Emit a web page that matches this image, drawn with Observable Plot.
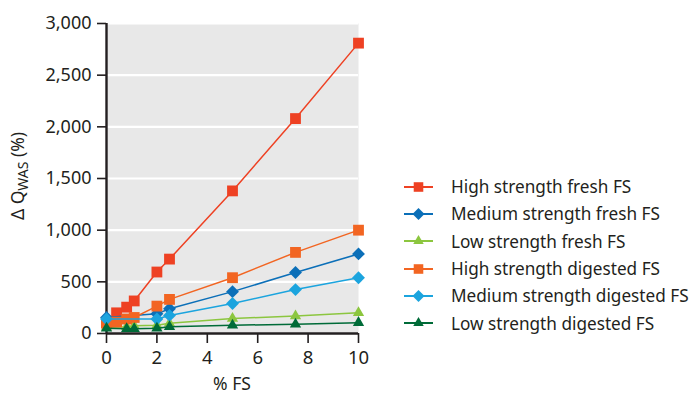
<!DOCTYPE html>
<html>
<head>
<meta charset="utf-8">
<script src="https://cdn.jsdelivr.net/npm/d3@7"></script>
<script src="https://cdn.jsdelivr.net/npm/@observablehq/plot@0.6"></script>
<style>
  html, body { margin: 0; padding: 0; background: white; }
  #wrap { position: relative; width: 693px; height: 395px; font-family: "Noto Sans", sans-serif; }
  #legend { position: absolute; left: 404px; top: 173px; color: #231f20; font-size: 17.2px; }
  .row { display: flex; align-items: center; height: 27.3px; }
  .row svg { margin-right: 17px; }
</style>
</head>
<body>
<div id="wrap"></div>
<script>
const seriesNames = [
  "High strength fresh FS",
  "Medium strength fresh FS",
  "Low strength fresh FS",
  "High strength digested FS",
  "Medium strength digested FS",
  "Low strength digested FS"
];
const seriesColors = ["#ee4123", "#0b6fb8", "#8cc63f", "#f26522", "#1ba4de", "#006b38"];
const seriesSymbols = ["square", "diamond2", "triangle2", "square", "diamond2", "triangle2"];

const highFreshX = [0, 0.4, 0.8, 1.1, 2, 2.5, 5, 7.5, 10];
const highFreshY = [105, 200, 255, 315, 595, 720, 1380, 2080, 2810];
const medFreshX = [0, 2, 2.5, 5, 7.5, 10];
const medFreshY = [155, 190, 240, 405, 590, 770];
const lowFreshX = [0, 0.8, 1.1, 2, 2.5, 5, 7.5, 10];
const lowFreshY = [60, 65, 75, 80, 100, 145, 170, 200];
const highDigX = [0, 0.4, 0.8, 1.1, 2, 2.5, 5, 7.5, 10];
const highDigY = [100, 110, 140, 155, 265, 330, 540, 785, 1000];
const medDigX = [0, 2, 2.5, 5, 7.5, 10];
const medDigY = [140, 140, 175, 290, 425, 540];
const lowDigX = [0, 0.8, 1.1, 2, 2.5, 5, 7.5, 10];
const lowDigY = [50, 45, 45, 50, 65, 80, 90, 105];

const xTicks = [0, 2, 4, 6, 8, 10];
const yTicks = [0, 500, 1000, 1500, 2000, 2500, 3000];

const allX = [highFreshX, medFreshX, lowFreshX, highDigX, medDigX, lowDigX];
const allY = [highFreshY, medFreshY, lowFreshY, highDigY, medDigY, lowDigY];

const data = [];
allX.forEach((xs, s) => xs.forEach((x, i) => data.push({series: seriesNames[s], x, y: allY[s][i]})));

const seriesMarks = seriesNames.flatMap((name, s) => {
  const d = data.filter(p => p.series === name);
  return [
    Plot.line(d, {x: "x", y: "y", stroke: seriesColors[s], strokeWidth: 1.5}),
    Plot.dot(d, {x: "x", y: "y", symbol: () => seriesSymbols[s], fill: seriesColors[s], stroke: "none",
      r: seriesSymbols[s] === "square" ? 6.1 : (seriesSymbols[s] === "diamond2" ? 5.8 : 5.4)})
  ];
});

const chart = Plot.plot({
  width: 693,
  height: 395,
  marginLeft: 106,
  marginRight: 335,
  marginTop: 23,
  marginBottom: 62,
  style: {fontFamily: "Noto Sans", fontSize: "16px", color: "#231f20", background: "white", overflow: "visible"},
  x: {domain: [0, 10], label: null},
  y: {domain: [0, 3000], label: null},
  marks: [
    Plot.frame({fill: "#e8e8e8", stroke: null}),
    Plot.gridY(yTicks, {stroke: "white", strokeOpacity: 1, strokeWidth: 2.2}),
    Plot.axisY(yTicks, {tickSize: 9, tickPadding: 6, tickFormat: d3.format(","), fontSize: 18, stroke: "#231f20", strokeWidth: 1.6, label: null}),
    Plot.axisX(xTicks, {tickSize: 10, tickPadding: 7, fontSize: 18.5, stroke: "#231f20", strokeWidth: 1.6, label: null}),
    Plot.ruleX([0], {stroke: "#231f20", strokeWidth: 2.4}),
    Plot.ruleY([0], {stroke: "#231f20", strokeWidth: 2.4}),
    ...seriesMarks
  ]
});

const svg = d3.select(chart);
const xs = chart.scale("x"), ys = chart.scale("y");
svg.append("text")
  .attr("x", xs.apply(5)).attr("y", 390)
  .attr("text-anchor", "middle").attr("font-size", 17.5).attr("fill", "#231f20")
  .text("% FS");
const yl = svg.append("text")
  .attr("transform", `translate(24,${ys.apply(1500) - 2}) rotate(-90)`)
  .attr("text-anchor", "middle").attr("font-size", 17.5).attr("fill", "#231f20");
yl.append("tspan").text("\u0394 Q");
yl.append("tspan").attr("font-size", 14).attr("dy", 4).text("WAS");
yl.append("tspan").attr("dy", -4).text(" (%)");

const wrap = document.getElementById("wrap");
wrap.appendChild(chart);

const legend = document.createElement("div");
legend.id = "legend";
seriesNames.forEach((name, s) => {
  const row = document.createElement("div");
  row.className = "row";
  const sw = d3.create("svg").attr("width", 30).attr("height", 16);
  sw.append("line").attr("x1", 0).attr("x2", 29).attr("y1", 8).attr("y2", 8)
    .attr("stroke", seriesColors[s]).attr("stroke-width", 2);
  const symType = {square: d3.symbolSquare, diamond2: d3.symbolDiamond2, triangle2: d3.symbolTriangle2}[seriesSymbols[s]];
  const r = seriesSymbols[s] === "square" ? 5.4 : (seriesSymbols[s] === "diamond2" ? 5.4 : 5.0);
  sw.append("path").attr("transform", "translate(14.5,8)")
    .attr("d", d3.symbol(symType, Math.PI * r * r)()).attr("fill", seriesColors[s]);
  row.appendChild(sw.node());
  const t = document.createElement("span");
  t.textContent = name;
  row.appendChild(t);
  legend.appendChild(row);
});
wrap.appendChild(legend);
</script>
</body>
</html>
